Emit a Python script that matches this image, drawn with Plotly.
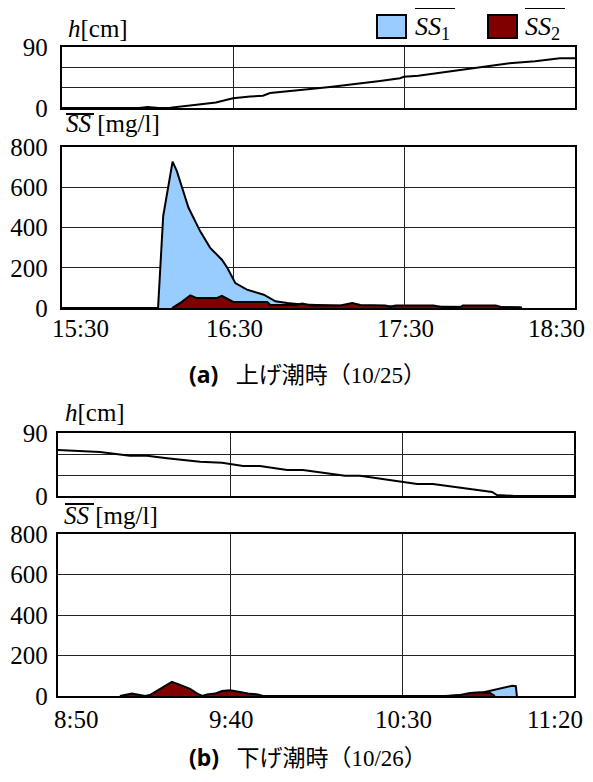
import plotly.graph_objects as go

# ---------------- data ----------------
# (a) rising tide 10/25 : minutes after 15:30
a_h_min = [0, 27, 30, 34, 38, 42, 48, 54, 60, 66, 70.5, 73, 80, 84.5, 94, 104.6, 111.6, 118.6, 120, 125, 136, 146.7, 157, 166, 174.7, 180]
a_h_val = [0, 0, 1.5, 0, 0.5, 2, 5, 8, 14.5, 17, 18, 22, 24.5, 27, 31, 36, 40, 44, 46, 47.5, 54, 60, 66, 69, 73.5, 73.5]

a_ss1_min = [0, 33.7, 35.5, 38.8, 40.3, 44.4, 48.5, 52, 56.1, 58, 60.8, 64.9, 70.8, 74.9, 79, 84, 100, 130, 161, 161.3]
a_ss1_val = [0, 0, 456, 727, 680, 498, 381, 299, 240, 200, 124, 91, 66, 33, 25, 18, 10, 8, 3, 0]

a_ss2_min = [38.6, 41.5, 45, 47.1, 54.4, 56.1, 60.1, 72, 73.1, 81.9, 84.3, 87.2, 97.7, 101.8, 104.7, 113.5, 115.3, 117,
             130.4, 132.9, 139.9, 140.6, 152.2, 154, 161, 161.3]
a_ss2_val = [0, 25, 63, 50, 50, 60, 30, 30, 15, 15, 22, 12, 12, 25, 15, 12, 5, 12, 12, 5, 5, 13, 13, 5, 3, 0]

a_tick_min = [0, 60, 120, 180]
a_tick_txt = ["15:30", "16:30", "17:30", "18:30"]

# (b) falling tide 10/26 : minutes after 8:50
b_h_min = [0, 12.2, 20.9, 25.9, 31.7, 41.3, 47.7, 53.8, 58.7, 66.6, 71.2, 83.4, 87.8, 100.3, 104.4, 109, 126.2, 127.6, 132.8, 150]
b_h_val = [65.7, 63, 57.6, 57.6, 54, 49, 47.6, 43, 43, 37, 37, 29, 29, 20.5, 17, 17, 5.7, 1.4, 0, 0]

b_ss1_min = [112.5, 116.9, 121.2, 124.1, 126.2, 128.5, 132, 133.1, 133.4]
b_ss1_val = [0, 5, 8, 20, 28, 35, 50, 48, 0]

b_ss2_min = [18, 19.5, 21.5, 23.8, 25.3, 26.7, 29.7, 33.1, 35.5, 38.4, 40.7, 41.9, 43.3, 45.6, 47.7, 50, 52.9, 55.2,
             58.1, 59.6, 113.4, 116.9, 119.8, 122.7, 125.6, 127]
b_ss2_val = [0, 5, 12, 5, 0, 5, 35, 70, 55, 35, 10, 0, 8, 12, 25, 28, 20, 12, 8, 0, 0, 5, 15, 18, 15, 0]

b_tick_min = [0, 50, 100, 150]
b_tick_txt = ["8:50", "9:40", "10:30", "11:20"]

h_ticks = [0, 90]
h_grid = [30, 60]
ss_ticks = [0, 200, 400, 600, 800]

SS1_COLOR = "#99CCFF"
SS2_COLOR = "#800000"
SERIF = "Liberation Serif, Times New Roman, Times, DejaVu Serif, serif"
WIN_W, WIN_H = 593, 782
OFF = 8                       # default page margin around the plot div
W, H = WIN_W - 2 * OFF, WIN_H - 2 * OFF

def PX(x):
    return (x - OFF) / W

def PY(y):
    return 1 - (y - OFF) / H

fig = go.Figure()

def line_trace(x, y, xa, ya):
    return go.Scatter(x=x, y=y, xaxis=xa, yaxis=ya, mode="lines",
                      line=dict(color="black", width=2), showlegend=False, hoverinfo="skip")

def area_trace(x, y, xa, ya, color):
    return go.Scatter(x=x, y=y, xaxis=xa, yaxis=ya, mode="lines", fill="tozeroy",
                      fillcolor=color, line=dict(color="black", width=2),
                      showlegend=False, hoverinfo="skip")

fig.add_trace(line_trace(a_h_min, a_h_val, "x", "y"))
fig.add_trace(area_trace(a_ss1_min, a_ss1_val, "x2", "y2", SS1_COLOR))
fig.add_trace(area_trace(a_ss2_min, a_ss2_val, "x2", "y2", SS2_COLOR))
fig.add_trace(line_trace(b_h_min, b_h_val, "x3", "y3"))
fig.add_trace(area_trace(b_ss1_min, b_ss1_val, "x4", "y4", SS1_COLOR))
fig.add_trace(area_trace(b_ss2_min, b_ss2_val, "x4", "y4", SS2_COLOR))

def px_dom(top, bottom):
    return [PY(bottom), PY(top)]

tickfont = dict(family=SERIF, size=25, color="black")

def xaxis(dom, rng, tv, anchor):
    return dict(domain=dom, range=rng, tickvals=tv, showticklabels=False, anchor=anchor,
                showgrid=True, gridcolor="#222", gridwidth=1, zeroline=False,
                showline=True, linecolor="black", linewidth=2.4, mirror=True,
                ticks="", automargin=False, fixedrange=True)

def yaxis(dom, rng, tv, anchor, standoff, minor_vals=None):
    d = dict(domain=dom, range=rng, tickvals=tv, ticktext=[str(v) for v in tv], anchor=anchor,
             showgrid=True, gridcolor="#222", gridwidth=1, zeroline=False,
             showline=True, linecolor="black", linewidth=2.4, mirror=True,
             ticks="", tickfont=tickfont, ticklabelstandoff=standoff,
             automargin=False, fixedrange=True)
    if minor_vals:
        d["minor"] = dict(tickvals=minor_vals, showgrid=True, gridcolor="#222", gridwidth=1, ticks="")
    return d

xa_dom = [PX(62), PX(575)]
xb_dom = [PX(58), PX(574)]

fig.update_layout(
    template="none",
    width=W, height=H, margin=dict(l=0, r=0, t=0, b=0, pad=0),
    paper_bgcolor="white", plot_bgcolor="white", showlegend=False,
    font=dict(family=SERIF, size=25, color="black"),
    xaxis=xaxis(xa_dom, [0, 180], a_tick_min, "y"),
    yaxis=yaxis(px_dom(47, 108), [0, 90], h_ticks, "x", 7, h_grid),
    xaxis2=xaxis(xa_dom, [0, 180], a_tick_min, "y2"),
    yaxis2=yaxis(px_dom(147, 308), [0, 800], ss_ticks, "x2", 7),
    xaxis3=xaxis(xb_dom, [0, 150], b_tick_min, "y3"),
    yaxis3=yaxis(px_dom(433, 496), [0, 90], h_ticks, "x3", 3, h_grid),
    xaxis4=xaxis(xb_dom, [0, 150], b_tick_min, "y4"),
    yaxis4=yaxis(px_dom(534, 696), [0, 800], ss_ticks, "x4", 3),
)

def ann(x, y, text, size=25, xanchor="left", family=SERIF):
    fig.add_annotation(x=PX(x), y=PY(y), xref="paper", yref="paper", text=text,
                       showarrow=False, xanchor=xanchor, yanchor="middle",
                       font=dict(family=family, size=size, color="black"))

def hline(x0, x1, y, width=2):
    fig.add_shape(type="line", xref="paper", yref="paper", x0=PX(x0), x1=PX(x1),
                  y0=PY(y), y1=PY(y), line=dict(color="black", width=width))

# x tick labels placed through the axis scales (end labels nudged inwards as in the original)
def xticks(xref, vals, txts, ypx):
    n = len(vals)
    for i, (v, t) in enumerate(zip(vals, txts)):
        shift = 18 if i == 0 else (-19 if i == n - 1 else 1)
        fig.add_annotation(x=v, xref=xref, y=PY(ypx), yref="paper", text=t, showarrow=False,
                           xanchor="center", yanchor="middle", xshift=shift,
                           font=dict(family=SERIF, size=25, color="black"))

xticks("x2", a_tick_min, a_tick_txt, 328)
xticks("x4", b_tick_min, b_tick_txt, 719)

# axis titles
ann(66, 29, "<i>h</i>[cm]")
ann(64, 123, "<i>SS</i> [mg/l]")
hline(66, 94, 114)
ann(63, 412, "<i>h</i>[cm]")
ann(62, 515, "<i>SS</i> [mg/l]")
hline(65, 94, 504)

# legend
fig.add_shape(type="rect", xref="paper", yref="paper", x0=PX(377), x1=PX(406), y0=PY(38), y1=PY(15),
              fillcolor=SS1_COLOR, line=dict(color="black", width=2))
fig.add_shape(type="rect", xref="paper", yref="paper", x0=PX(488), x1=PX(517), y0=PY(38), y1=PY(15),
              fillcolor=SS2_COLOR, line=dict(color="black", width=2))
ann(413, 28, "<i>SS</i><sub>1</sub>", size=26)
hline(415, 455, 8)
ann(523, 28, "<i>SS</i><sub>2</sub>", size=26)
hline(525, 565, 8)

# captions
NB = "\u00a0\u00a0\u00a0"
CAPFONT = "Liberation Serif, Noto Sans CJK JP, serif"
cap_a = ("<span style='font-family:\"Noto Sans\", sans-serif;font-weight:bold'>(a)</span>" + NB +
         "上げ潮時（10/25）")
cap_b = ("<span style='font-family:\"Noto Sans\", sans-serif;font-weight:bold'>(b)</span>" + NB +
         "下げ潮時（10/26）")
ann(187, 374, cap_a, size=23, family=CAPFONT)
ann(187, 757, cap_b, size=23, family=CAPFONT)

fig.write_html("out.html")
